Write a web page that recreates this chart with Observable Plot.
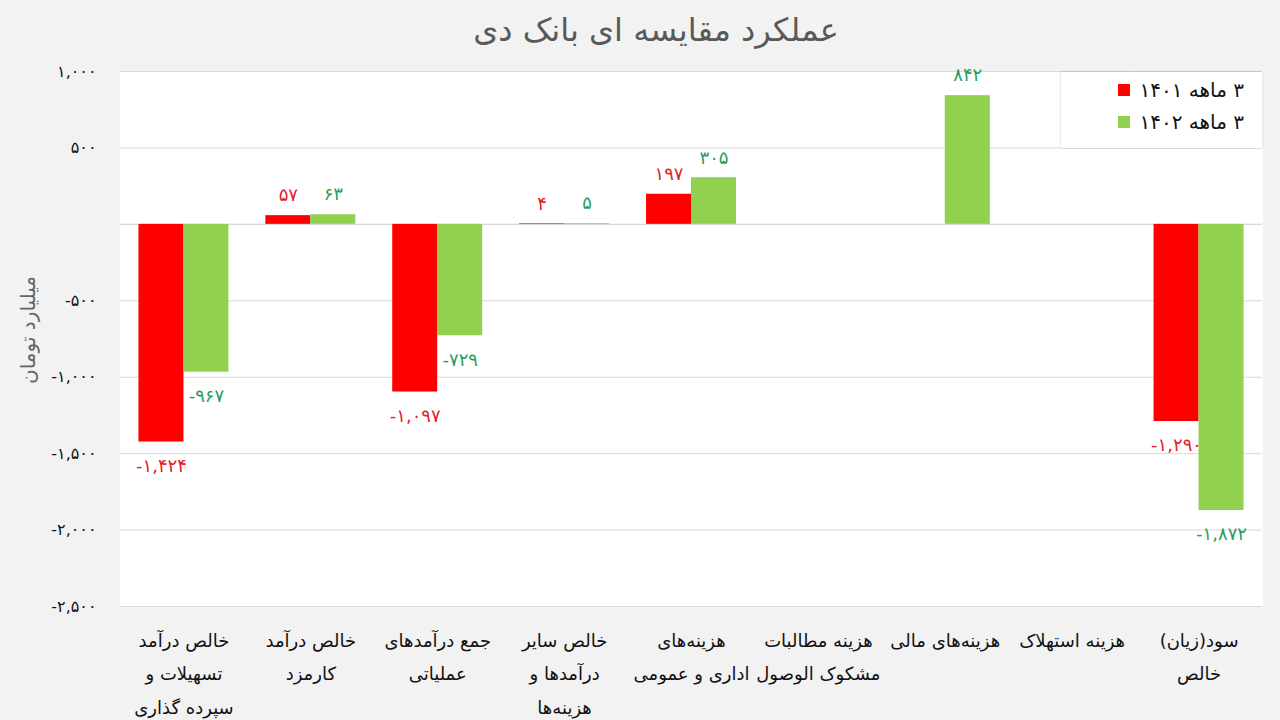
<!DOCTYPE html>
<html>
<head>
<meta charset="utf-8">
<script src="https://cdn.jsdelivr.net/npm/d3@7"></script>
<script src="https://cdn.jsdelivr.net/npm/@observablehq/plot@0.6"></script>
<style>
  html, body { margin: 0; padding: 0; background: #f2f2f2; width: 1280px; height: 720px; overflow: hidden; }
  body { position: relative; font-family: "DejaVu Sans", sans-serif; }
  #title { position: absolute; left: 0; width: 1312px; top: 11px; text-align: center; font-size: 32px; color: #595959; direction: rtl; }
  #ylabel { position: absolute; left: 28px; top: 330px; transform: translate(-50%, -50%) rotate(-90deg); font-size: 20px; color: #666; white-space: nowrap; direction: rtl; }
  #chart { position: absolute; left: 0; top: 60px; }
  #legend { position: absolute; left: 1061px; top: 72px; width: 201px; height: 76px; background: #fff; box-shadow: 0 0 2px rgba(0,0,0,0.25); }
  .item { position: absolute; right: 18px; display: flex; align-items: center; gap: 9px; font-size: 20px; color: #111; }
  .sw { width: 12px; height: 12px; display: inline-block; }
  .lt { direction: rtl; letter-spacing: 1px; }
</style>
</head>
<body>
<div id="title">عملکرد مقایسه ای بانک دی</div>
<div id="ylabel">میلیارد تومان</div>
<div id="chart"></div>
<div id="legend"></div>
<script>
const categories = [
  "خالص درآمد\nتسهیلات و\nسپرده گذاری",
  "خالص درآمد\nکارمزد",
  "جمع درآمدهای\nعملیاتی",
  "خالص سایر\nدرآمدها و\nهزینه‌ها",
  "هزینه‌های\nاداری و عمومی",
  "هزینه مطالبات\nمشکوک الوصول",
  "هزینه‌های مالی",
  "هزینه استهلاک",
  "سود(زیان)\nخالص"
];
const seriesNames = ["۳ ماهه ۱۴۰۱", "۳ ماهه ۱۴۰۲"];
const values1401 = [-1424, 57, -1097, 4, 197, null, null, null, -1290];
const values1402 = [-967, 63, -729, 5, 305, null, 842, null, -1872];
const yTicks = [1000, 500, 0, -500, -1000, -1500, -2000, -2500];

const barColors = ["#ff0000", "#92d050"];
const labelColors = ["#e3202a", "#1fa05e"];

const faDigits = "۰۱۲۳۴۵۶۷۸۹";
const toFa = s => String(s).replace(/[0-9]/g, d => faDigits[+d]).replace(/\u2212/g, "-");
const fmt = v => toFa(d3.format(",")(v));

const rows = [];
[values1401, values1402].forEach((arr, si) => {
  arr.forEach((v, i) => {
    if (v != null) rows.push({category: categories[i], series: seriesNames[si], value: v, si});
  });
});

const textMarks = [];
[0, 1].forEach(si => {
  textMarks.push(Plot.text(rows.filter(d => d.si === si && d.value >= 0), {
    fx: "category", x: "series", y: "value", text: d => fmt(d.value),
    dy: -20, fill: labelColors[si], fontSize: 18, style: "letter-spacing:3px"
  }));
  textMarks.push(Plot.text(rows.filter(d => d.si === si && d.value < 0), {
    fx: "category", x: "series", y: "value", text: d => fmt(d.value),
    dy: 24, fill: labelColors[si], fontSize: 18, style: "letter-spacing:3px"
  }));
});

const chart = Plot.plot({
  width: 1280,
  height: 660,
  marginTop: 11,
  marginBottom: 114,
  marginLeft: 120,
  marginRight: 18,
  style: {fontFamily: "DejaVu Sans, sans-serif", background: "transparent", overflow: "visible"},
  fx: {domain: categories, padding: 0, round: false, axis: null},
  x: {domain: seriesNames, paddingInner: 0, paddingOuter: 0.41, round: false, axis: null},
  y: {domain: [-2500, 1000], axis: null},
  color: {domain: seriesNames, range: barColors},
  marks: [
    Plot.frame({fill: "white", stroke: "white", strokeWidth: 1}),
    Plot.gridY({ticks: yTicks, stroke: "#d9d9d9", strokeOpacity: 1, strokeWidth: 1}),
    Plot.ruleY(categories, {fx: d => d, y: 0, stroke: "#d9d9d9", strokeWidth: 1}),
    Plot.barY(rows, {fx: "category", x: "series", y: "value", fill: "series"}),
    ...textMarks,
    Plot.axisY({ticks: yTicks, tickSize: 0, tickPadding: 24, fontSize: 16, fill: "#111", label: null,
      tickFormat: d => d === 0 ? "" : fmt(d), style: "letter-spacing:3px"}),
    Plot.axisFx({anchor: "bottom", tickSize: 0, tickPadding: 17, fontSize: 18, lineHeight: 1.85,
      fill: "#111", tickFormat: d => d, label: null})
  ]
});
document.getElementById("chart").appendChild(chart);

const legend = document.getElementById("legend");
seriesNames.forEach((name, i) => {
  const item = document.createElement("div");
  item.className = "item";
  item.style.top = (i === 0 ? 6 : 38) + "px";
  item.innerHTML = `<span class="sw" style="background:${barColors[i]}"></span><span class="lt">${name}</span>`;
  legend.appendChild(item);
});
</script>
</body>
</html>
